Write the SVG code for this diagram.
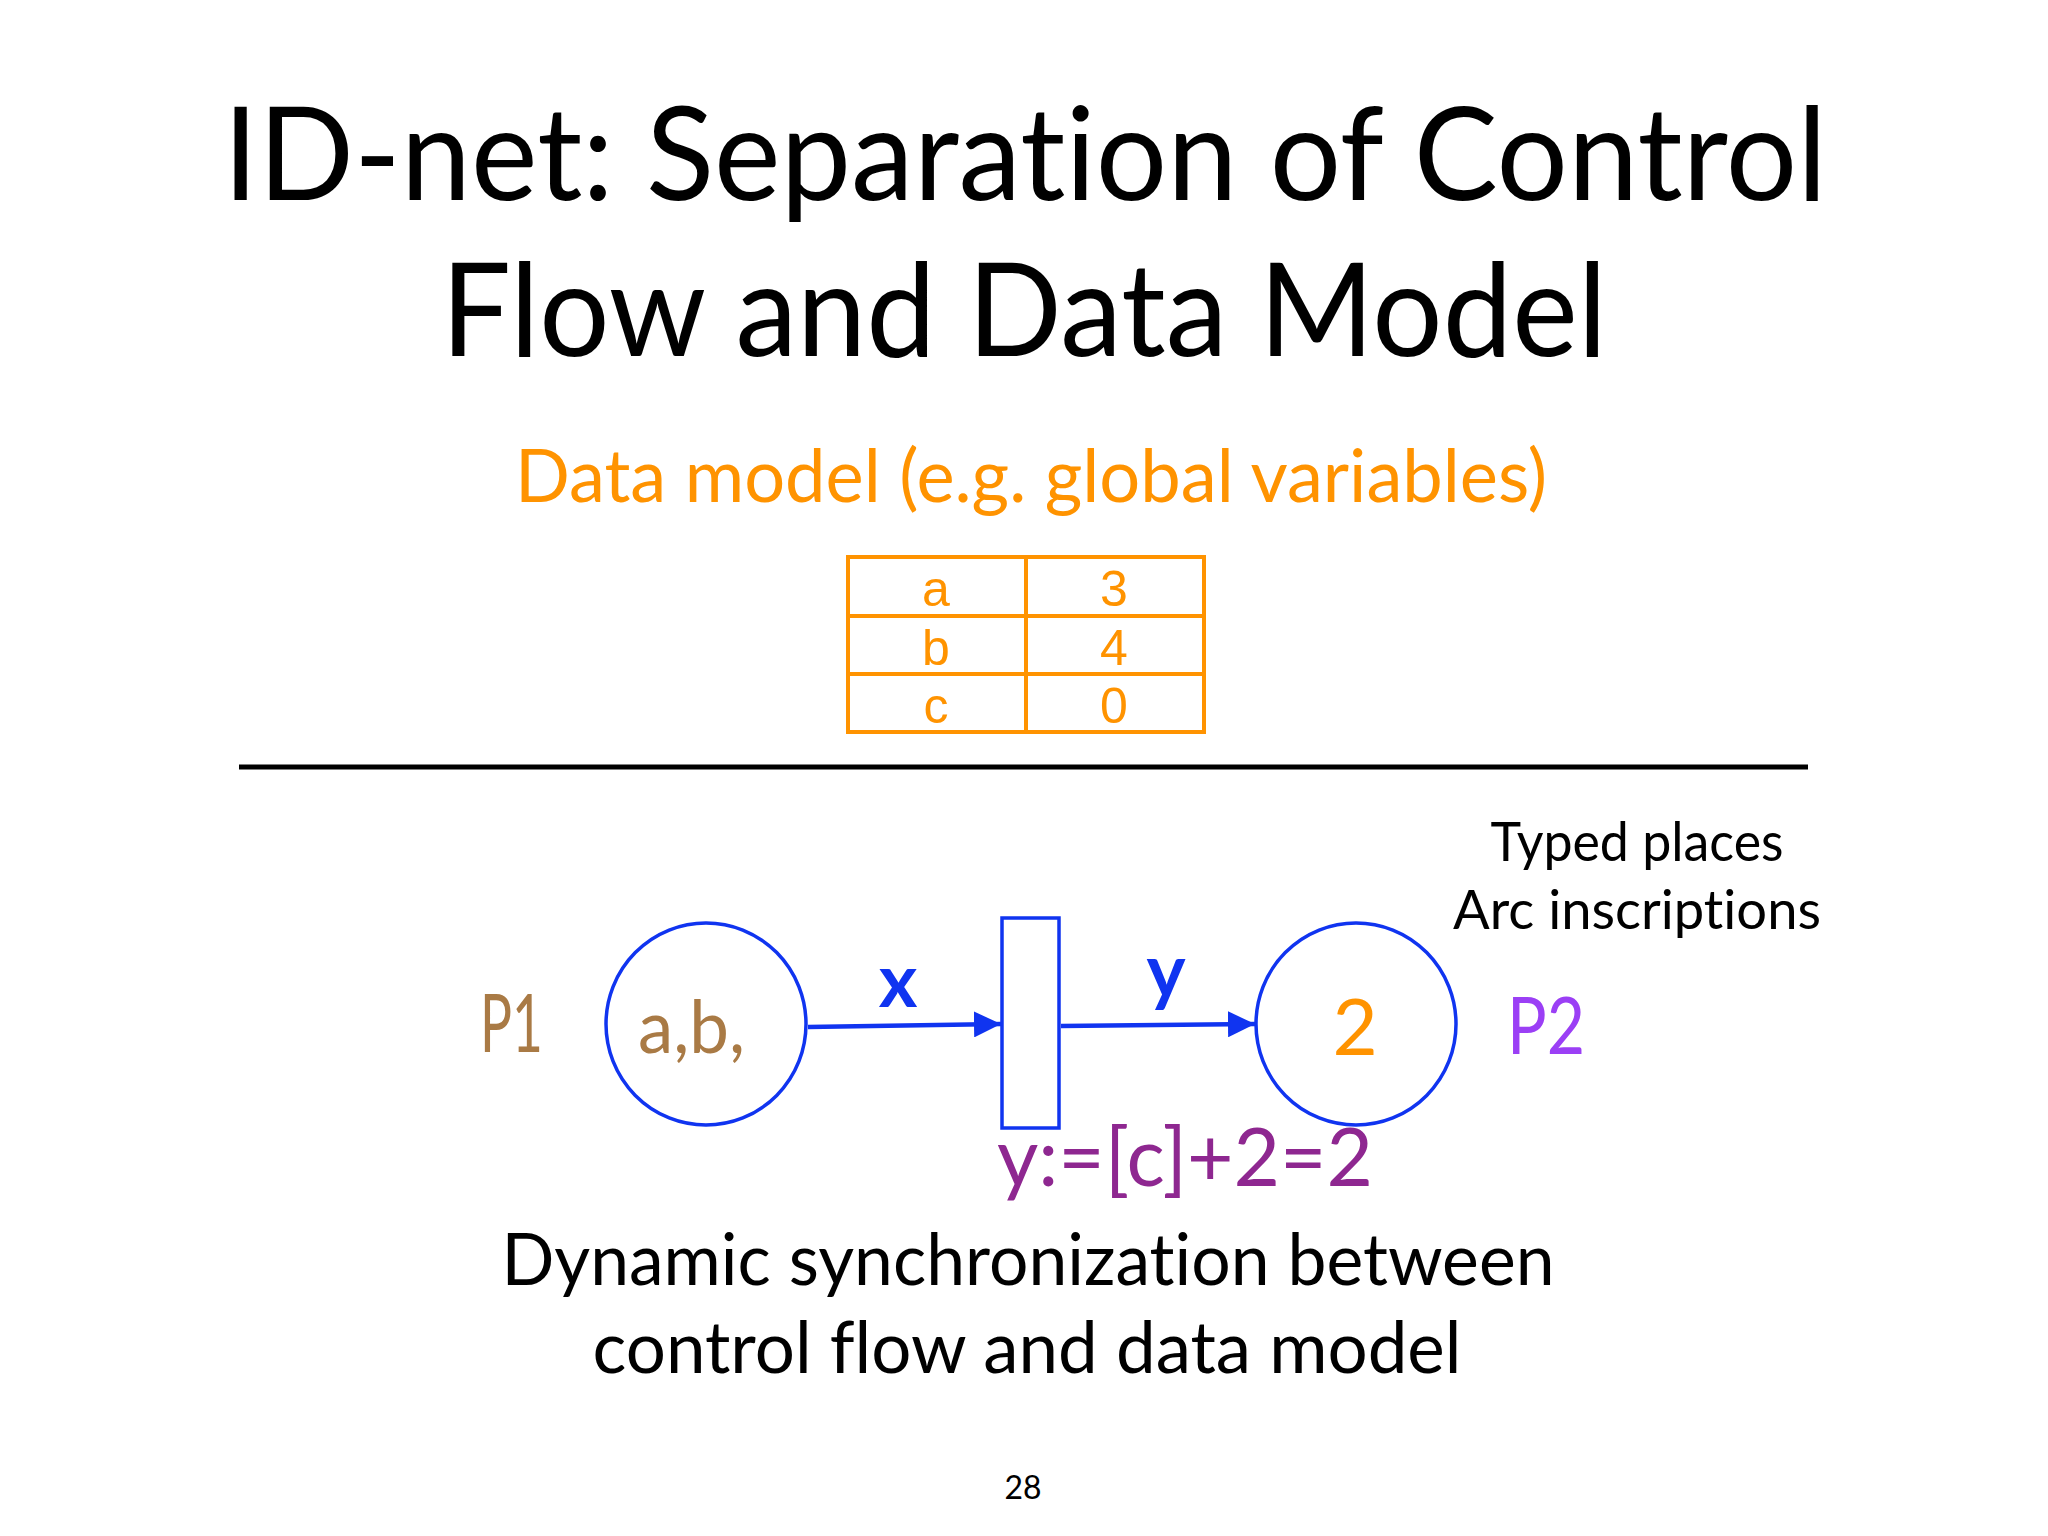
<svg xmlns="http://www.w3.org/2000/svg" width="2048" height="1536" viewBox="0 0 2048 1536">
<defs>
<style>
.gs{font-family:Lato,"Open Sans","Liberation Sans",sans-serif;font-variant-ligatures:none;font-feature-settings:"liga" 0,"clig" 0;}
.hv{font-family:"Liberation Sans",Arial,sans-serif;}
.blue{stroke:#1034F0;fill:none;stroke-width:3.5;}
.tbl{stroke:#FF9300;fill:none;stroke-width:4;}
</style>
<marker id="ah" markerUnits="userSpaceOnUse" markerWidth="28" markerHeight="26" refX="27" refY="13" orient="auto">
<path d="M0,0 L27,13 L0,26 Z" fill="#1034F0"/>
</marker>
</defs>
<rect width="2048" height="1536" fill="#ffffff"/>
<g id="title" class="gs" fill="#000" font-size="130" text-anchor="middle">
<text x="1025" y="200" textLength="1604" lengthAdjust="spacingAndGlyphs">ID-net: Separation of Control</text>
<text x="1024" y="356" textLength="1166" lengthAdjust="spacingAndGlyphs">Flow and Data Model</text>
</g>
<text id="datamodel-label" class="gs" x="1031" y="502" font-size="74" fill="#FF9300" text-anchor="middle" textLength="1032" lengthAdjust="spacingAndGlyphs">Data model (e.g. global variables)</text>
<g id="table">
<rect class="tbl" x="848" y="557" width="356" height="175"/>
<line class="tbl" x1="1026" y1="557" x2="1026" y2="732"/>
<line class="tbl" x1="848" y1="616" x2="1204" y2="616"/>
<line class="tbl" x1="848" y1="674" x2="1204" y2="674"/>
<g class="hv" font-size="50" fill="#FF9300" text-anchor="middle">
<text x="936" y="606">a</text>
<text x="1114" y="606">3</text>
<text x="936" y="665">b</text>
<text x="1114" y="665">4</text>
<text x="936" y="723">c</text>
<text x="1114" y="723">0</text>
</g>
</g>
<line id="separator" x1="239" y1="767" x2="1808" y2="767" stroke="#000" stroke-width="5"/>
<g id="notes" class="gs" fill="#000" font-size="55" text-anchor="middle">
<text x="1637" y="861" textLength="293" lengthAdjust="spacingAndGlyphs">Typed places</text>
<text x="1637" y="929" textLength="368" lengthAdjust="spacingAndGlyphs">Arc inscriptions</text>
</g>
<g id="P1">
<ellipse class="blue" cx="706" cy="1024" rx="100" ry="101"/>
<text class="gs" x="480" y="1052" font-size="82" fill="#A97A45" textLength="63" lengthAdjust="spacingAndGlyphs">P1</text>
<text class="gs" x="638" y="1053" font-size="74" fill="#A97A45" textLength="107" lengthAdjust="spacingAndGlyphs">a,b,</text>
</g>
<g id="T1">
<rect class="blue" x="1002" y="918" width="57" height="210"/>
<text class="gs" x="997" y="1186" font-size="82" fill="#8E2790" textLength="376" lengthAdjust="spacingAndGlyphs">y:=[c]+2=2</text>
</g>
<g id="P2">
<ellipse class="blue" cx="1356" cy="1024" rx="100" ry="101"/>
<text class="gs" x="1355" y="1055" font-size="78" fill="#FF9300" text-anchor="middle">2</text>
<text class="gs" x="1507" y="1054" font-size="80" fill="#9B3FF5" textLength="78" lengthAdjust="spacingAndGlyphs">P2</text>
</g>
<g id="connectors">
<line x1="808" y1="1027" x2="1001" y2="1024" stroke="#1034F0" stroke-width="4.5" marker-end="url(#ah)"/>
<line x1="1061" y1="1026" x2="1255" y2="1024" stroke="#1034F0" stroke-width="4.5" marker-end="url(#ah)"/>
<text class="gs" x="898" y="1007" font-size="74" fill="#1034F0" text-anchor="middle" font-weight="bold">x</text>
<text class="gs" x="1166" y="997" font-size="74" fill="#1034F0" text-anchor="middle" font-weight="bold">y</text>
</g>
<g id="caption" class="gs" fill="#000" font-size="72" text-anchor="middle">
<text x="1028" y="1285" textLength="1053" lengthAdjust="spacingAndGlyphs">Dynamic synchronization between</text>
<text x="1027" y="1373" textLength="869" lengthAdjust="spacingAndGlyphs">control flow and data model</text>
</g>
<text id="page" class="gs" x="1023" y="1499" font-size="32" fill="#000" text-anchor="middle" textLength="37" lengthAdjust="spacingAndGlyphs">28</text>
</svg>
